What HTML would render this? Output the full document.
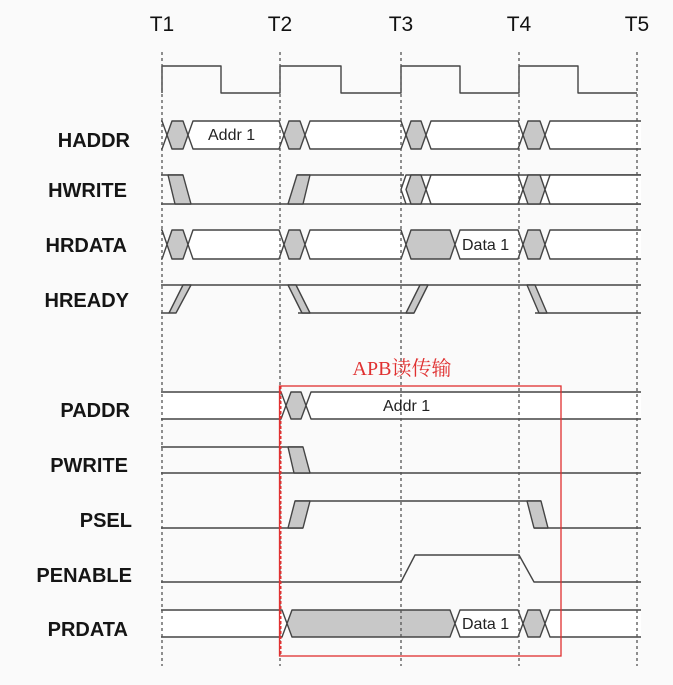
<!DOCTYPE html>
<html><head><meta charset="utf-8"><style>
html,body{margin:0;padding:0;background:#fafafa;}
svg{display:block;}
</style></head><body>
<svg width="673" height="685" viewBox="0 0 673 685" xmlns="http://www.w3.org/2000/svg">
<rect width="673" height="685" fill="#fafafa"/>
<g font-family="Liberation Sans, Arial, sans-serif" font-size="21" fill="#111" text-anchor="middle">
<text x="162" y="31">T1</text><text x="280" y="31">T2</text><text x="401" y="31">T3</text><text x="519" y="31">T4</text><text x="637" y="31">T5</text>
</g>
<g font-family="Liberation Sans, Arial, sans-serif" font-size="20" font-weight="bold" fill="#151515" text-anchor="end">
<text x="130" y="147">HADDR</text><text x="127" y="197">HWRITE</text><text x="127" y="252">HRDATA</text><text x="129" y="307">HREADY</text>
<text x="130" y="417">PADDR</text><text x="128" y="472">PWRITE</text><text x="132" y="527">PSEL</text><text x="132" y="582">PENABLE</text><text x="128" y="636">PRDATA</text>
</g>
<g fill="none" stroke="#444" stroke-width="1.4" stroke-linejoin="round">
<polyline points="162,93 162,66 221,66 221,93 280,93 280,66 341,66 341,93 401,93 401,66 460,66 460,93 519,93 519,66 578,66 578,93 637,93"/>
</g>
<defs><clipPath id="c"><rect x="161" y="0" width="480" height="685"/></clipPath></defs>
<g clip-path="url(#c)" stroke="#444" stroke-width="1.4" stroke-linejoin="round">
<g fill="#fff">
<polygon points="152,135 157,121 162,121 167,135 162,149 157,149"/>
<polygon fill="#c8c8c8" points="167,135 172,121 183,121 188,135 183,149 172,149"/>
<polygon points="188,135 193,121 279,121 284,135 279,149 193,149"/>
<polygon fill="#c8c8c8" points="284,135 289,121 300,121 305,135 300,149 289,149"/>
<polygon points="305,135 310,121 401,121 406,135 401,149 310,149"/>
<polygon fill="#c8c8c8" points="406,135 411,121 421,121 426,135 421,149 411,149"/>
<polygon points="426,135 431,121 518,121 523,135 518,149 431,149"/>
<polygon fill="#c8c8c8" points="523,135 528,121 540,121 545,135 540,149 528,149"/>
<polygon points="545,135 550,121 650,121 655,135 650,149 550,149"/>
</g>
<g fill="#fff">
<polygon points="152,244.5 157,230 162,230 167,244.5 162,259 157,259"/>
<polygon fill="#c8c8c8" points="167,244.5 172,230 183,230 188,244.5 183,259 172,259"/>
<polygon points="188,244.5 193,230 279,230 284,244.5 279,259 193,259"/>
<polygon fill="#c8c8c8" points="284,244.5 289,230 300,230 305,244.5 300,259 289,259"/>
<polygon points="305,244.5 310,230 401,230 406,244.5 401,259 310,259"/>
<polygon fill="#c8c8c8" points="406,244.5 411,230 450,230 455,244.5 450,259 411,259"/>
<polygon points="455,244.5 460,230 518,230 523,244.5 518,259 460,259"/>
<polygon fill="#c8c8c8" points="523,244.5 528,230 540,230 545,244.5 540,259 528,259"/>
<polygon points="545,244.5 550,230 650,230 655,244.5 650,259 550,259"/>
</g>
<g fill="#fff">
<polygon points="401,189.5 406,175 660,175 660,204 406,204"/>
<polygon fill="#c8c8c8" points="406,189.5 411,175 421,175 426,189.5 421,204 411,204"/>
<polygon points="426,189.5 431,175 518,175 523,189.5 518,204 431,204"/>
<polygon fill="#c8c8c8" points="523,189.5 528,175 540,175 545,189.5 540,204 528,204"/>
<polygon points="545,189.5 550,175 660,175 660,204 550,204"/>
</g>
<g fill="none"><polyline points="150,175 183,175"/><line x1="150" y1="204" x2="406" y2="204"/><line x1="297" y1="175" x2="404" y2="175"/></g>
<polygon fill="#c8c8c8" points="168,175 183,175 191,204 175,204"/>
<polygon fill="#c8c8c8" points="288,204 303,204 310,175 297,175"/>
<g fill="none"><line x1="150" y1="285" x2="660" y2="285"/><line x1="150" y1="313" x2="169" y2="313"/><line x1="298" y1="313" x2="414" y2="313"/><line x1="535" y1="313" x2="660" y2="313"/></g>
<polygon fill="#c8c8c8" points="169,313 176,313 191,285 183,285"/>
<polygon fill="#c8c8c8" points="288,285 296,285 310,313 302,313"/>
<polygon fill="#c8c8c8" points="406,313 414,313 428,285 420,285"/>
<polygon fill="#c8c8c8" points="527,285 535,285 547,313 539,313"/>
<g fill="#fff">
<polygon points="150,392 281,392 286,405.5 281,419 150,419"/>
<polygon fill="#c8c8c8" points="286,405.5 291,392 301,392 306,405.5 301,419 291,419"/>
<polygon points="306,405.5 311,392 660,392 660,419 311,419"/>
</g>
<g fill="none"><line x1="150" y1="447" x2="303" y2="447"/><line x1="150" y1="473" x2="660" y2="473"/></g>
<polygon fill="#c8c8c8" points="288,447 303,447 310,473 294,473"/>
<g fill="none"><line x1="150" y1="528" x2="303" y2="528"/><line x1="295" y1="501" x2="541" y2="501"/><line x1="534" y1="528" x2="660" y2="528"/></g>
<polygon fill="#c8c8c8" points="288,528 303,528 310,501 295,501"/>
<polygon fill="#c8c8c8" points="527,501 541,501 548,528 534,528"/>
<polyline fill="none" points="150,582 401,582 415,555 519,555 534,582 660,582"/>
<g fill="#fff">
<polygon points="150,610 282,610 287,623.5 282,637 150,637"/>
<polygon fill="#c8c8c8" points="287,623.5 292,610 450,610 455,623.5 450,637 292,637"/>
<polygon points="455,623.5 460,610 518,610 523,623.5 518,637 460,637"/>
<polygon fill="#c8c8c8" points="523,623.5 528,610 540,610 545,623.5 540,637 528,637"/>
<polygon points="545,623.5 550,610 660,610 660,637 550,637"/>
</g>
</g>
<g stroke="#555" stroke-width="1.3" stroke-dasharray="3,3">
<line x1="162" y1="52" x2="162" y2="666"/><line x1="280" y1="52" x2="280" y2="666"/><line x1="401" y1="52" x2="401" y2="666"/><line x1="519" y1="52" x2="519" y2="666"/><line x1="637" y1="52" x2="637" y2="666"/>
</g>
<g font-family="Liberation Sans, Arial, sans-serif" font-size="16" fill="#222">
<text x="208" y="140">Addr 1</text>
<text x="462" y="250">Data 1</text>
<text x="383" y="411">Addr 1</text>
<text x="462" y="629">Data 1</text>
</g>
<rect x="279.5" y="386" width="281.5" height="270" fill="none" stroke="#e03030" stroke-width="1.3"/>
<line x1="280.5" y1="386" x2="280.5" y2="656" stroke="#e03030" stroke-width="2" stroke-dasharray="3,2"/>
<text x="402" y="375" text-anchor="middle" font-family="Liberation Serif, 'Noto Serif CJK SC', serif" font-size="20" fill="#e03030">APB读传输</text>
</svg>
</body></html>
